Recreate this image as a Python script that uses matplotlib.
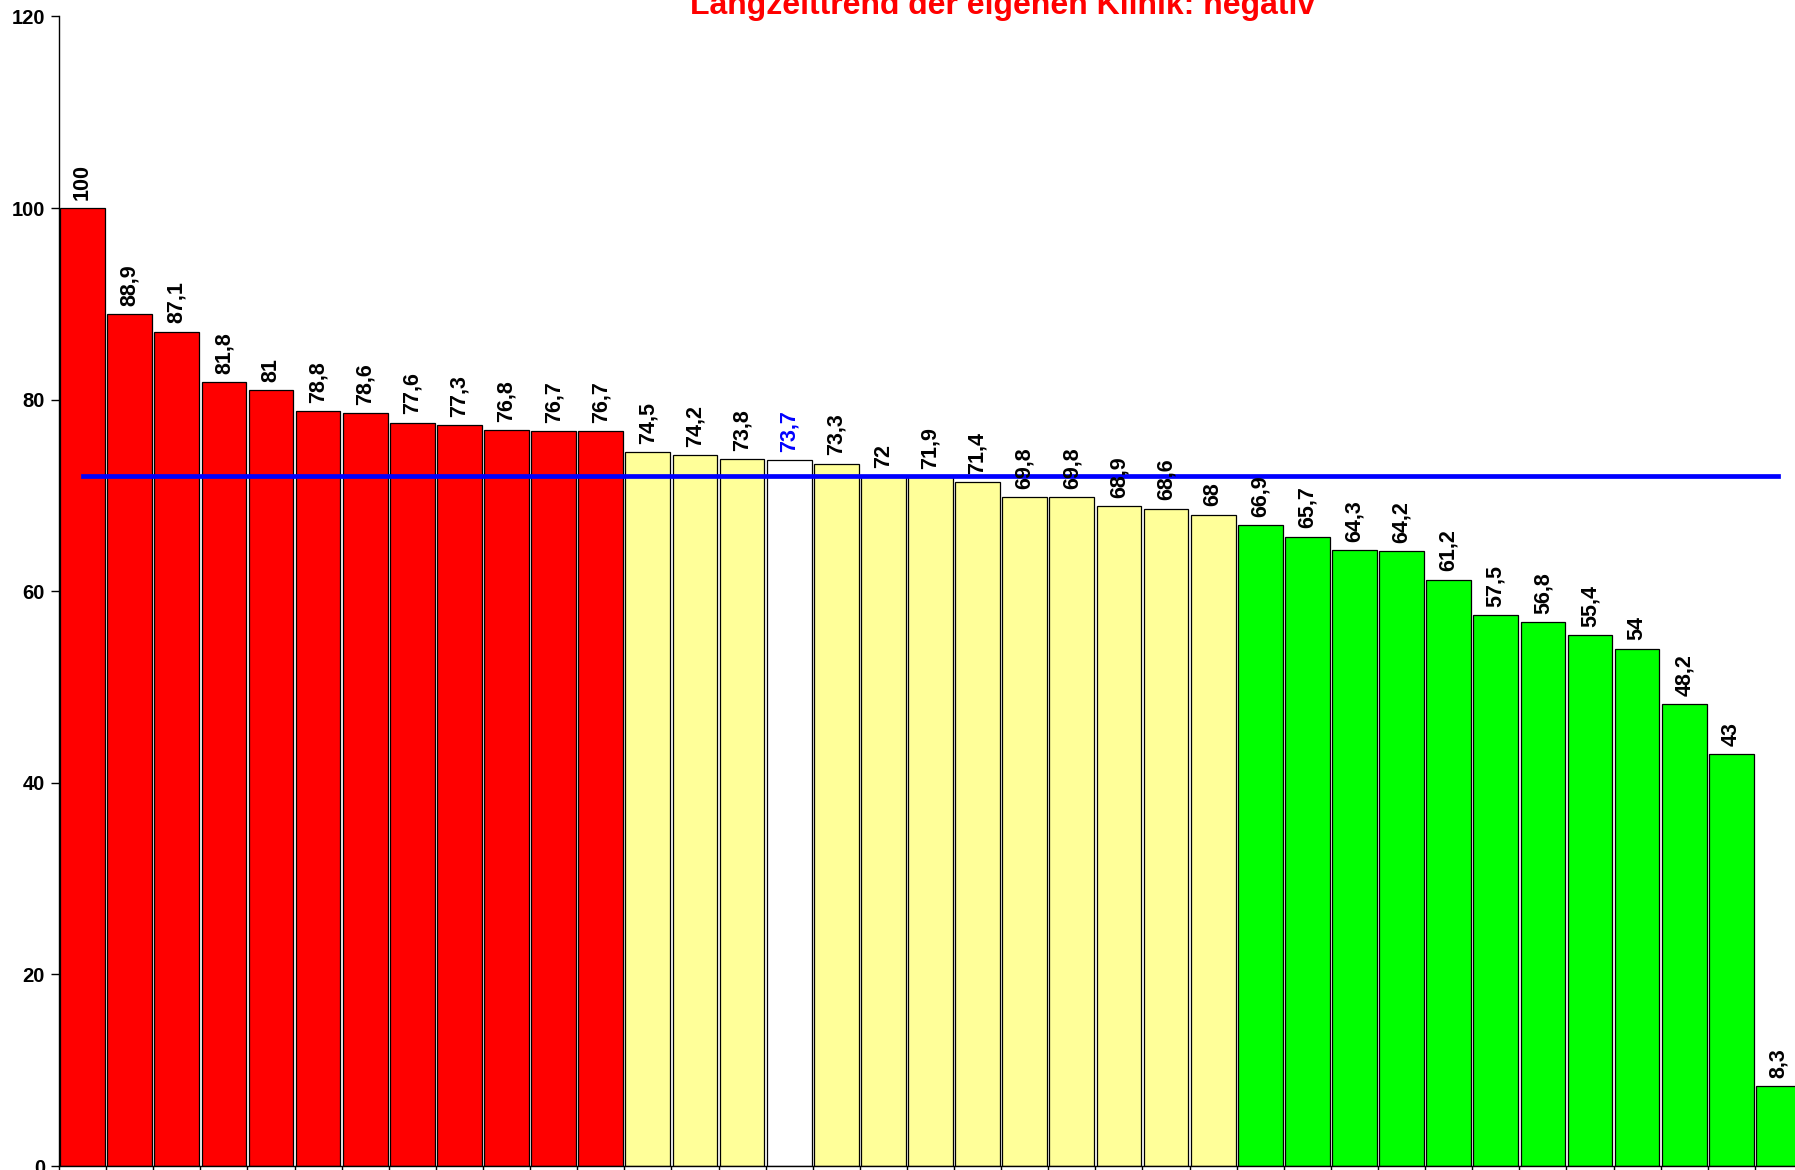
import matplotlib
matplotlib.use("Agg")
import matplotlib.pyplot as plt

values = [100, 88.9, 87.1, 81.8, 81, 78.8, 78.6, 77.6, 77.3, 76.8, 76.7, 76.7,
          74.5, 74.2, 73.8, 73.7, 73.3, 72, 71.9, 71.4, 69.8, 69.8, 68.9, 68.6, 68,
          66.9, 65.7, 64.3, 64.2, 61.2, 57.5, 56.8, 55.4, 54, 48.2, 43, 8.3]
groups = ["red"] * 12 + ["yellow"] * 3 + ["own"] + ["yellow"] * 9 + ["green"] * 12
mean_value = 72.0
title = "Langzeittrend der eigenen Klinik: negativ"
yticks = [0, 20, 40, 60, 80, 100, 120]

color_map = {"red": "#FF0000", "yellow": "#FFFF99", "own": "#FFFFFF", "green": "#00FF00"}

plt.rcParams["font.family"] = ["Liberation Sans", "DejaVu Sans"]
plt.rcParams["font.weight"] = "bold"

fig = plt.figure(figsize=(17.95, 11.7), dpi=100)
W, H = 1795, 1170
x0, x1 = 59, 1802
y0, y1 = 1166, 16.4
ax = fig.add_axes([x0 / W, (H - y0) / H, (x1 - x0) / W, (y0 - y1) / H])

n = len(values)
xs = list(range(n))
colors = [color_map[g] for g in groups]
ax.bar(xs, values, width=0.95, color=colors, edgecolor="black", linewidth=0.9, zorder=2)

ax.plot([xs[0], xs[-1]], [mean_value, mean_value], color="#0000FF", linewidth=3.4, zorder=3)

for x, v, g in zip(xs, values, groups):
    lab = ("%g" % v).replace(".", ",")
    ax.annotate(lab, (x, v), xytext=(0, 6), textcoords="offset points",
                rotation=90, ha="center", va="bottom", fontsize=15.5, fontweight="bold",
                color="#0000FF" if g == "own" else "black", zorder=4)

ax.set_xlim(-0.5, n - 0.5)
ax.set_ylim(0, 120)
ax.set_yticks(yticks)
ax.set_yticklabels([str(t) for t in yticks], fontsize=14.5, fontweight="bold")
ax.set_xticks([i - 0.5 for i in range(n + 1)])
ax.set_xticklabels([])
ax.tick_params(axis="y", direction="out", length=6, width=1, pad=4)
ax.tick_params(axis="x", direction="out", length=8, width=1)
for s in ["top", "right"]:
    ax.spines[s].set_visible(False)
for s in ["left", "bottom"]:
    ax.spines[s].set_linewidth(1)

fig.text(1003 / W, 1 - 14 / H, title, color="#FF0000", fontsize=23, fontweight="bold",
         ha="center", va="baseline")

fig.savefig("out.png", dpi=100)
